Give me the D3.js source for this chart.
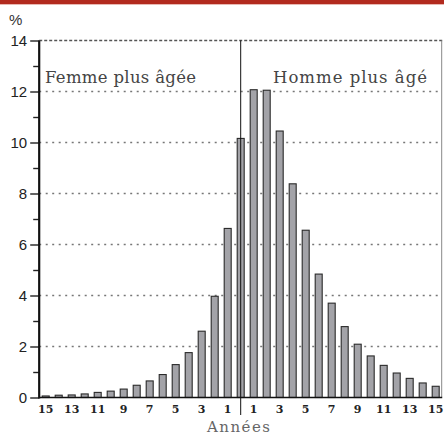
<!DOCTYPE html>
<html>
<head>
<meta charset="utf-8">
<script src="https://cdn.jsdelivr.net/npm/d3@7"></script>
<style>
  body { margin: 0; background: #fff; }
  svg { display: block; }
</style>
</head>
<body>
<svg id="chart" width="444" height="436"></svg>
<script>
// ecart d'age (annees), negatif = femme plus agee
var years = d3.range(-15, 16);
var shares = [0.06, 0.09, 0.10, 0.14, 0.20, 0.25, 0.33, 0.48, 0.65, 0.90, 1.29, 1.76, 2.60, 3.97, 6.63,
              10.16,
              12.07, 12.05, 10.45, 8.38, 6.56, 4.84, 3.70, 2.78, 2.09, 1.63, 1.26, 0.96, 0.75, 0.57, 0.44];
var yMajor = [0, 2, 4, 6, 8, 10, 12, 14];
var yMinor = [1, 3, 5, 7, 9, 11, 13];
var xLabels = [-15, -13, -11, -9, -7, -5, -3, -1, 1, 3, 5, 7, 9, 11, 13, 15];

var svg = d3.select("#chart");
var plotLeft = 39.2, plotRight = 442.2, plotTop = 40.5, plotBottom = 397.5;

var x = d3.scaleBand()
    .domain(years)
    .range([plotLeft, plotRight])
    .paddingInner(0.385)
    .paddingOuter(0.1925);

var y = d3.scaleLinear()
    .domain([0, 14])
    .range([plotBottom, plotTop]);

// bandeau rouge
svg.append("rect").attr("x", 0).attr("y", 0).attr("width", 444).attr("height", 4).attr("fill", "#b22a1e");
svg.append("rect").attr("x", 0).attr("y", 4).attr("width", 444).attr("height", 1).attr("fill", "#e8b8b2");

// grille pointillee
svg.selectAll(".grid")
    .data(yMajor.filter(function (d) { return d > 0 && d < 14; }))
    .enter().append("line")
    .attr("class", "grid")
    .attr("x1", plotLeft).attr("x2", plotRight)
    .attr("y1", function (d) { return y(d); })
    .attr("y2", function (d) { return y(d); })
    .attr("stroke", "#777")
    .attr("stroke-width", 1.3)
    .attr("stroke-dasharray", "2,4.5");

// cadre haut + droite
svg.append("line")
    .attr("x1", plotLeft).attr("x2", plotRight)
    .attr("y1", y(14)).attr("y2", y(14))
    .attr("stroke", "#555").attr("stroke-width", 1.3)
    .attr("stroke-dasharray", "3,2");
svg.append("line")
    .attr("x1", plotRight - 0.5).attr("x2", plotRight - 0.5)
    .attr("y1", y(14)).attr("y2", plotBottom)
    .attr("stroke", "#888").attr("stroke-width", 1);

// barres
svg.selectAll(".bar")
    .data(shares)
    .enter().append("rect")
    .attr("class", "bar")
    .attr("x", function (d, i) { return x(years[i]) + 0.5; })
    .attr("y", function (d) { return y(d); })
    .attr("width", x.bandwidth() - 1)
    .attr("height", function (d) { return plotBottom - y(d); })
    .attr("fill", "#a3a3a8")
    .attr("stroke", "#2a2a2a")
    .attr("stroke-width", 1.1);

// ligne centrale
var cx = x(0) + x.bandwidth() / 2;
svg.append("line")
    .attr("x1", cx).attr("x2", cx)
    .attr("y1", plotTop).attr("y2", 415)
    .attr("stroke", "#111").attr("stroke-width", 1);

// axe x
svg.append("line")
    .attr("x1", plotLeft).attr("x2", plotRight)
    .attr("y1", plotBottom).attr("y2", plotBottom)
    .attr("stroke", "#111").attr("stroke-width", 1.5);

var xAxis = svg.append("g")
    .attr("transform", "translate(0," + plotBottom + ")")
    .call(d3.axisBottom(x).tickValues(xLabels).tickSize(0).tickPadding(8)
        .tickFormat(function (d) { return Math.abs(d); }));
xAxis.select(".domain").remove();
xAxis.selectAll("text")
    .attr("font-family", "DejaVu Serif")
    .attr("font-weight", "bold")
    .attr("font-size", 11)
    .attr("fill", "#222");

// axe y
var yAxisMinor = svg.append("g")
    .attr("transform", "translate(" + plotLeft + ",0)")
    .call(d3.axisLeft(y).tickValues(yMinor).tickSize(6).tickFormat(""));
yAxisMinor.select(".domain").remove();
yAxisMinor.selectAll("line").attr("stroke", "#222").attr("stroke-width", 1.4);

var yAxis = svg.append("g")
    .attr("transform", "translate(" + plotLeft + ",0)")
    .call(d3.axisLeft(y).tickValues(yMajor).tickSize(9).tickPadding(3));
yAxis.select(".domain").remove();
yAxis.selectAll("line").attr("stroke", "#222").attr("stroke-width", 1.4);
yAxis.selectAll("text")
    .attr("font-family", "Liberation Sans")
    .attr("font-size", 15)
    .attr("fill", "#222");

svg.append("line")
    .attr("x1", plotLeft).attr("x2", plotLeft)
    .attr("y1", plotTop).attr("y2", plotBottom + 1)
    .attr("stroke", "#111").attr("stroke-width", 2.2);

svg.append("text")
    .attr("x", 9).attr("y", 25)
    .attr("font-family", "Liberation Sans").attr("font-size", 15)
    .attr("fill", "#333")
    .text("%");

// annotations
svg.append("text")
    .attr("x", 45).attr("y", 83)
    .attr("font-family", "DejaVu Serif").attr("font-size", 16.5)
    .attr("textLength", 151).attr("lengthAdjust", "spacing")
    .attr("fill", "#444")
    .text("Femme plus âgée");
svg.append("text")
    .attr("x", 273).attr("y", 83)
    .attr("font-family", "DejaVu Serif").attr("font-size", 16.5)
    .attr("textLength", 154).attr("lengthAdjust", "spacing")
    .attr("fill", "#444")
    .text("Homme plus âgé");

svg.append("text")
    .attr("x", 207).attr("y", 432)
    .attr("font-family", "DejaVu Serif").attr("font-size", 15)
    .attr("textLength", 63).attr("lengthAdjust", "spacing")
    .attr("fill", "#666")
    .text("Années");
</script>
</body>
</html>
